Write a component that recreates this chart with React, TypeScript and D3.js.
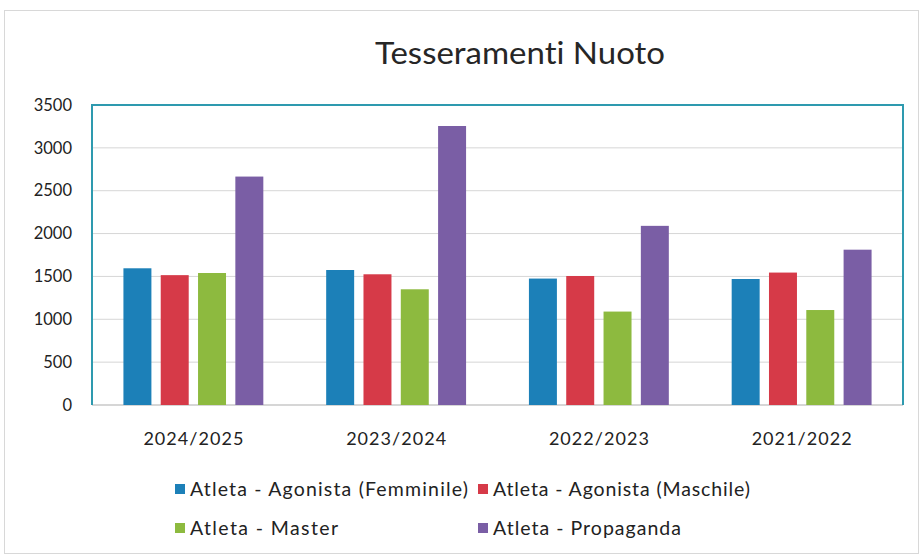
import React from "react";
import * as d3 from "d3";

const categories = ["2024/2025", "2023/2024", "2022/2023", "2021/2022"];
const seriesNames = [
  "Atleta - Agonista (Femminile)",
  "Atleta - Agonista (Maschile)",
  "Atleta - Master",
  "Atleta - Propaganda",
];
const femminile = [1595, 1575, 1475, 1470];
const maschile = [1515, 1525, 1505, 1545];
const master = [1540, 1350, 1090, 1108];
const propaganda = [2665, 3255, 2090, 1812];
const yTicks = [0, 500, 1000, 1500, 2000, 2500, 3000, 3500];
const colors = ["#1C80B8", "#D63A48", "#8DBA3F", "#7A5EA5"];

export default function App() {
  const W = 922, H = 555;
  const left = 92, right = 903, top = 105, bottom = 405;
  const series = [femminile, maschile, master, propaganda];
  const x = d3.scaleBand<string>().domain(categories).range([left, right]).paddingInner(0.31).paddingOuter(0.155);
  const inner = d3.scaleBand<number>().domain([0, 1, 2, 3]).range([0, x.bandwidth()]).paddingInner(0.25);
  const y = d3.scaleLinear().domain([0, 3500]).range([bottom, top]);
  const font = "Lato, 'Open Sans', sans-serif";
  const legendPos = [
    [175, 489], [478, 489], [175, 528], [478, 528],
  ];
  const legendLen = [278, 257, 148, 188];
  return (
    <svg width={W} height={H} style={{ position: "absolute", left: 0, top: 0, background: "#fff", fontVariantLigatures: "none" }} fontFamily={font}>
      <rect x={4.5} y={10.5} width={914} height={543} fill="#fff" stroke="#d8d8d8" />
      <text x={375} y={64} fontSize={31} fill="#262626" textLength={290} lengthAdjust="spacingAndGlyphs">Tesseramenti Nuoto</text>
      {yTicks.map((t) => (
        <g key={t}>
          {t > 0 && t < 3500 && (
            <line x1={left} x2={right} y1={y(t)} y2={y(t)} stroke="#d6d6d6" strokeWidth={1} />
          )}
          <text x={72} y={y(t)} dy="0.35em" textAnchor="end" fontSize={16.5} fill="#222">{t}</text>
        </g>
      ))}
      <line x1={left} x2={right} y1={bottom} y2={bottom} stroke="#c8c8c8" strokeWidth={1.5} />
      {categories.map((c, i) => (
        <g key={c}>
          {series.map((s, k) => (
            <rect key={k} x={(x(c) as number) + (inner(k) as number)} width={inner.bandwidth()}
              y={y(s[i])} height={bottom - y(s[i])} fill={colors[k]} />
          ))}
          <text x={(x(c) as number) + x.bandwidth() / 2 - 50} y={445} fontSize={18} fill="#222"
            textLength={100} lengthAdjust="spacing">{c}</text>
        </g>
      ))}
      <path d={`M${left},${bottom} V${top} H${right} V${bottom}`} fill="none" stroke="#2E9AAF" strokeWidth={2} />
      {seriesNames.map((n, k) => (
        <g key={n}>
          <rect x={legendPos[k][0]} y={legendPos[k][1] - 5} width={10} height={10} fill={colors[k]} />
          <text x={legendPos[k][0] + 15} y={legendPos[k][1]} dy="0.35em" fontSize={19.5} fill="#222"
            textLength={legendLen[k]} lengthAdjust="spacing">{n}</text>
        </g>
      ))}
    </svg>
  );
}
